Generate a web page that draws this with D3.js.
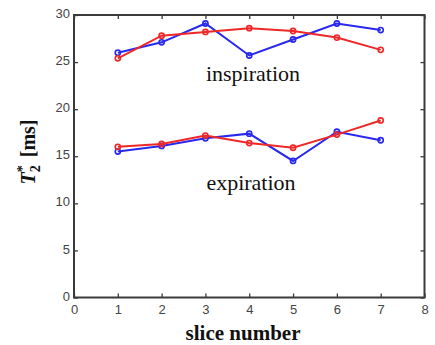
<!DOCTYPE html>
<html lang="en">
<head>
<meta charset="UTF-8">
<title>T2* per slice</title>
<script src="https://d3js.org/d3.v7.min.js"></script>
<style>
  body { margin: 0; background: #fff; }
</style>
</head>
<body>
<div id="container"></div>
<script>
// slice numbers and T2* values (ms)
const slices = [1, 2, 3, 4, 5, 6, 7];
const inspBlue = [26.0, 27.1, 29.1, 25.7, 27.4, 29.1, 28.4];
const inspRed  = [25.4, 27.8, 28.2, 28.6, 28.3, 27.6, 26.3];
const expBlue  = [15.5, 16.1, 16.9, 17.4, 14.5, 17.6, 16.7];
const expRed   = [16.0, 16.3, 17.2, 16.4, 15.9, 17.3, 18.8];
const xTicks = [0, 1, 2, 3, 4, 5, 6, 7, 8];
const yTicks = [0, 5, 10, 15, 20, 25, 30];

const W = 435, H = 345;
const margin = {top: 15, right: 10, bottom: 47, left: 74};

const svg = d3.select("#container").append("svg")
  .attr("width", W).attr("height", H);

const x = d3.scaleLinear().domain([0, 8]).range([margin.left, W - margin.right - 0.5]);
const y = d3.scaleLinear().domain([0, 30]).range([H - margin.bottom - 0.5, margin.top]);

const axisCol = "#3a3a3a";
const tickFont = "Arial, 'Liberation Sans', sans-serif";

// ticks pointing inward on all four sides
const gx = svg.append("g").attr("transform", `translate(0,${y(0)})`)
  .call(d3.axisBottom(x).tickValues(xTicks).tickSize(-4).tickPadding(7));
const gxt = svg.append("g").attr("transform", `translate(0,${y(30)})`)
  .call(d3.axisTop(x).tickValues(xTicks).tickSize(-4).tickFormat(""));
const gy = svg.append("g").attr("transform", `translate(${x(0)},0)`)
  .call(d3.axisLeft(y).tickValues(yTicks).tickSize(-4).tickPadding(4));
const gyr = svg.append("g").attr("transform", `translate(${x(8)},0)`)
  .call(d3.axisRight(y).tickValues(yTicks).tickSize(-4).tickFormat(""));

[gx, gxt, gy, gyr].forEach(g => {
  g.select(".domain").remove();
  g.selectAll(".tick line").attr("stroke", axisCol).attr("stroke-width", 1.3);
  g.selectAll("text").attr("fill", "#444").attr("font-family", tickFont).attr("font-size", 13);
});
gy.selectAll("text").attr("dy", "0.2em");

// frame
svg.append("rect")
  .attr("x", x(0)).attr("y", y(30))
  .attr("width", x(8) - x(0)).attr("height", y(0) - y(30))
  .attr("fill", "none").attr("stroke", axisCol).attr("stroke-width", 2);

const line = d3.line().x((d, i) => x(slices[i])).y(d => y(d));

function series(vals, col) {
  svg.append("path").datum(vals)
    .attr("d", line).attr("fill", "none")
    .attr("stroke", col).attr("stroke-width", 2);
  svg.selectAll(null).data(vals).enter().append("circle")
    .attr("cx", (d, i) => x(slices[i])).attr("cy", d => y(d))
    .attr("r", 2.6).attr("fill", "none")
    .attr("stroke", col).attr("stroke-width", 1.6);
}
series(inspBlue, "#2828ee");
series(inspRed, "#ee2828");
series(expBlue, "#2828ee");
series(expRed, "#ee2828");

const serif = "'Times New Roman', 'Liberation Serif', 'DejaVu Serif', serif";

svg.append("text").attr("x", 253).attr("y", 81)
  .attr("text-anchor", "middle").attr("font-family", serif)
  .attr("font-size", 22).attr("fill", "#111").text("inspiration");
svg.append("text").attr("x", 251).attr("y", 190)
  .attr("text-anchor", "middle").attr("font-family", serif)
  .attr("font-size", 22).attr("fill", "#111").text("expiration");

svg.append("text").attr("x", 243).attr("y", 340)
  .attr("text-anchor", "middle").attr("font-family", serif)
  .attr("font-size", 21).attr("font-weight", "bold").attr("fill", "#111")
  .text("slice number");

// y label: T2* [ms]
const yl = svg.append("text")
  .attr("transform", "translate(35,152) rotate(-90)")
  .attr("text-anchor", "middle").attr("font-family", serif)
  .attr("font-size", 20).attr("font-weight", "bold").attr("fill", "#111");
yl.append("tspan").attr("font-style", "italic").text("T");
yl.append("tspan").attr("font-size", 14).attr("dy", 5).text("2");
yl.append("tspan").attr("font-size", 14).attr("dy", -13).attr("dx", -7).text("*");
yl.append("tspan").attr("dy", 8).attr("dx", 3).text(" [ms]");
</script>
</body>
</html>
